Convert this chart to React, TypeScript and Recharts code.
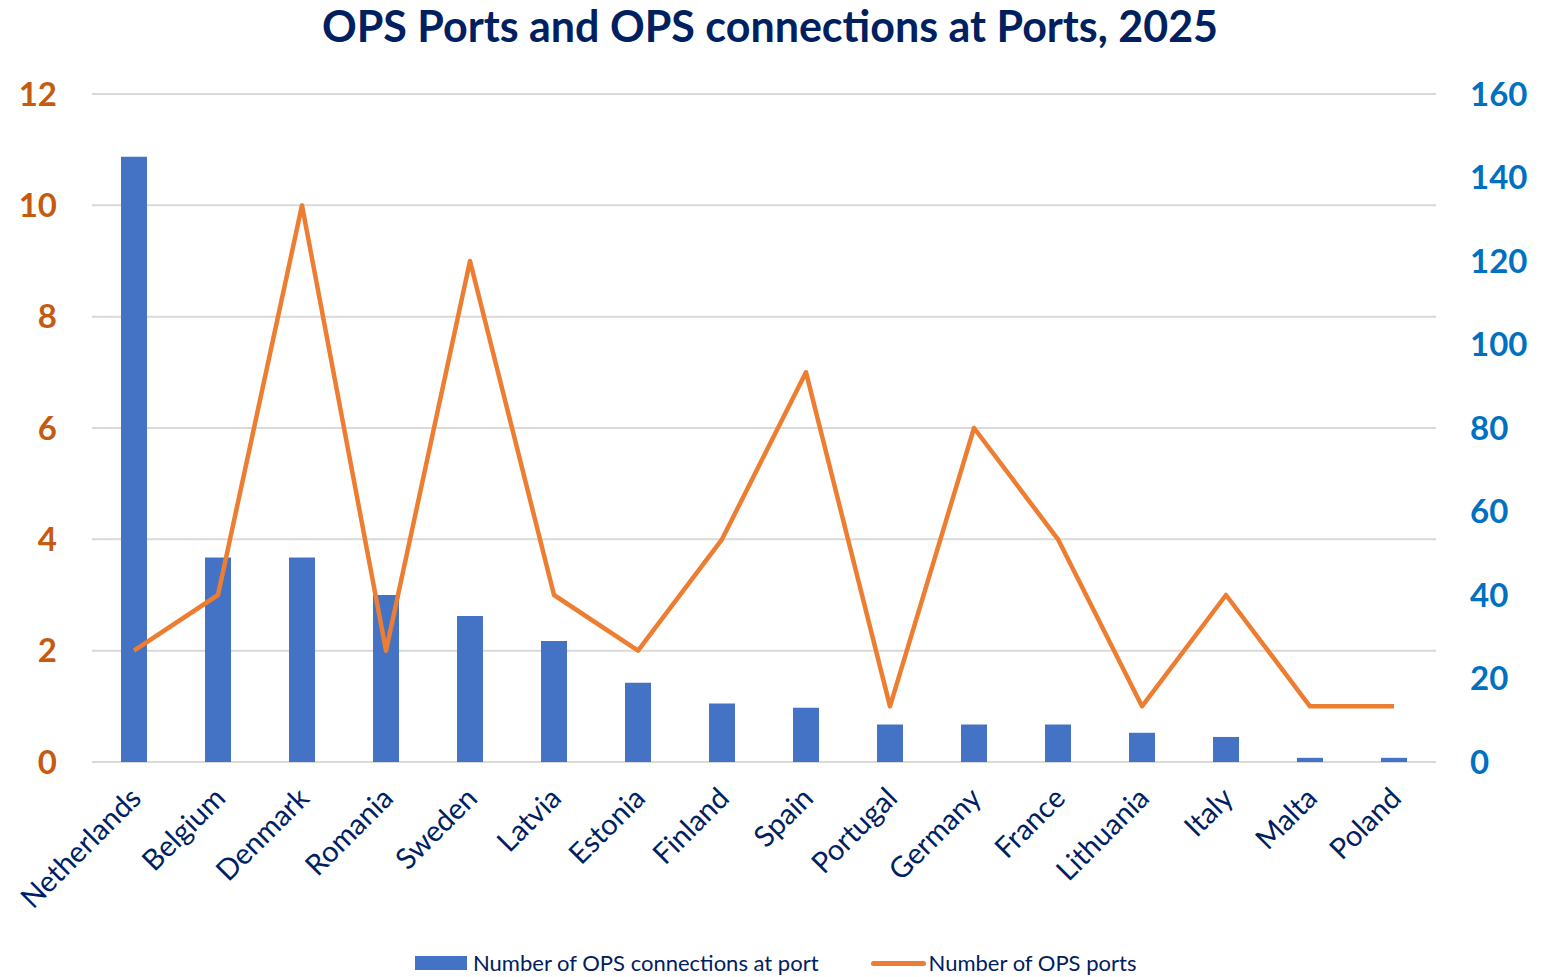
import React from 'react';
import { ComposedChart, Bar, Line, XAxis, YAxis, CartesianGrid } from 'recharts';

const COUNTRIES = [
  'Netherlands', 'Belgium', 'Denmark', 'Romania', 'Sweden', 'Latvia', 'Estonia', 'Finland',
  'Spain', 'Portugal', 'Germany', 'France', 'Lithuania', 'Italy', 'Malta', 'Poland',
];
// Right axis: connections at port
const CONNECTIONS = [145, 49, 49, 40, 35, 29, 19, 14, 13, 9, 9, 9, 7, 6, 1, 1];
// Left axis: number of OPS ports
const PORTS = [2, 3, 10, 2, 9, 3, 2, 4, 7, 1, 6, 4, 1, 3, 1, 1];

const LEFT_TICKS = [0, 2, 4, 6, 8, 10, 12];
const RIGHT_TICKS = [0, 20, 40, 60, 80, 100, 120, 140, 160];

const COLOR_BAR = '#4472C4';
const COLOR_LINE = '#ED7D31';
const COLOR_LEFT = '#C55A11';
const COLOR_RIGHT = '#0070C0';
const COLOR_NAVY = '#002060';
const FONT = 'Lato, "Open Sans", sans-serif';

const data = COUNTRIES.map((country, i) => ({
  country,
  connections: CONNECTIONS[i],
  ports: PORTS[i],
}));

function CountryTick({ x, y, payload }: { x?: number; y?: number; payload?: { value: string } }) {
  const tx = (x ?? 0) + 9;
  const ty = (y ?? 0) + 30;
  return (
    <text
      x={tx}
      y={ty}
      textAnchor="end"
      fill={COLOR_NAVY}
      fontSize={29}
      fontFamily={FONT}
      transform={`rotate(-45, ${tx}, ${ty})`}
    >
      {payload?.value}
    </text>
  );
}

export default function App() {
  return (
    <div style={{ position: 'absolute', left: 0, top: 0, width: 1554, height: 977, background: '#fff', fontFamily: FONT }}>
      <div
        style={{
          position: 'absolute', left: 0, top: 0, width: 1540, textAlign: 'center',
          fontSize: 43, fontWeight: 700, color: COLOR_NAVY, lineHeight: '52px',
        }}
      >
        OPS Ports and OPS connections at Ports, 2025
      </div>

      <div style={{ position: 'absolute', left: 0, top: 0 }}>
        <ComposedChart
          width={1554}
          height={977}
          data={data}
          margin={{ top: 94, right: 0, bottom: 0, left: 0 }}
        >
          <CartesianGrid yAxisId="left" vertical={false} stroke="#D9D9D9" strokeWidth={2} />
          <XAxis
            dataKey="country"
            height={215}
            axisLine={false}
            tickLine={false}
            interval={0}
            tick={<CountryTick />}
          />
          <YAxis
            yAxisId="left"
            orientation="left"
            width={92}
            domain={[0, 12]}
            ticks={LEFT_TICKS}
            axisLine={false}
            tickLine={false}
            tickSize={0}
            tickMargin={35}
            tick={{ fill: COLOR_LEFT, fontSize: 33, fontWeight: 700, fontFamily: FONT }}
          />
          <YAxis
            yAxisId="right"
            orientation="right"
            width={118}
            domain={[0, 160]}
            ticks={RIGHT_TICKS}
            axisLine={false}
            tickLine={false}
            tickSize={0}
            tickMargin={34}
            tick={{ fill: COLOR_RIGHT, fontSize: 33, fontWeight: 700, fontFamily: FONT }}
          />
          <Bar
            yAxisId="right"
            dataKey="connections"
            name="Number of OPS connections at port"
            fill={COLOR_BAR}
            barSize={26}
            isAnimationActive={false}
          />
          <Line
            yAxisId="left"
            type="linear"
            dataKey="ports"
            name="Number of OPS ports"
            stroke={COLOR_LINE}
            strokeWidth={4.5}
            strokeLinejoin="round"
            dot={false}
            activeDot={false}
            isAnimationActive={false}
          />
        </ComposedChart>
      </div>

      {/* Legend */}
      <div
        style={{
          position: 'absolute', left: 415, top: 950, display: 'flex', alignItems: 'center',
          fontSize: 22, color: COLOR_NAVY, lineHeight: '26px', whiteSpace: 'nowrap',
        }}
      >
        <span style={{ display: 'inline-block', width: 52, height: 14, background: COLOR_BAR, marginRight: 6 }} />
        <span>Number of OPS connections at port</span>
        <span
          style={{
            display: 'inline-block', width: 55, height: 5, borderRadius: 3, background: COLOR_LINE,
            marginLeft: 52, marginRight: 3,
          }}
        />
        <span>Number of OPS ports</span>
      </div>
    </div>
  );
}
